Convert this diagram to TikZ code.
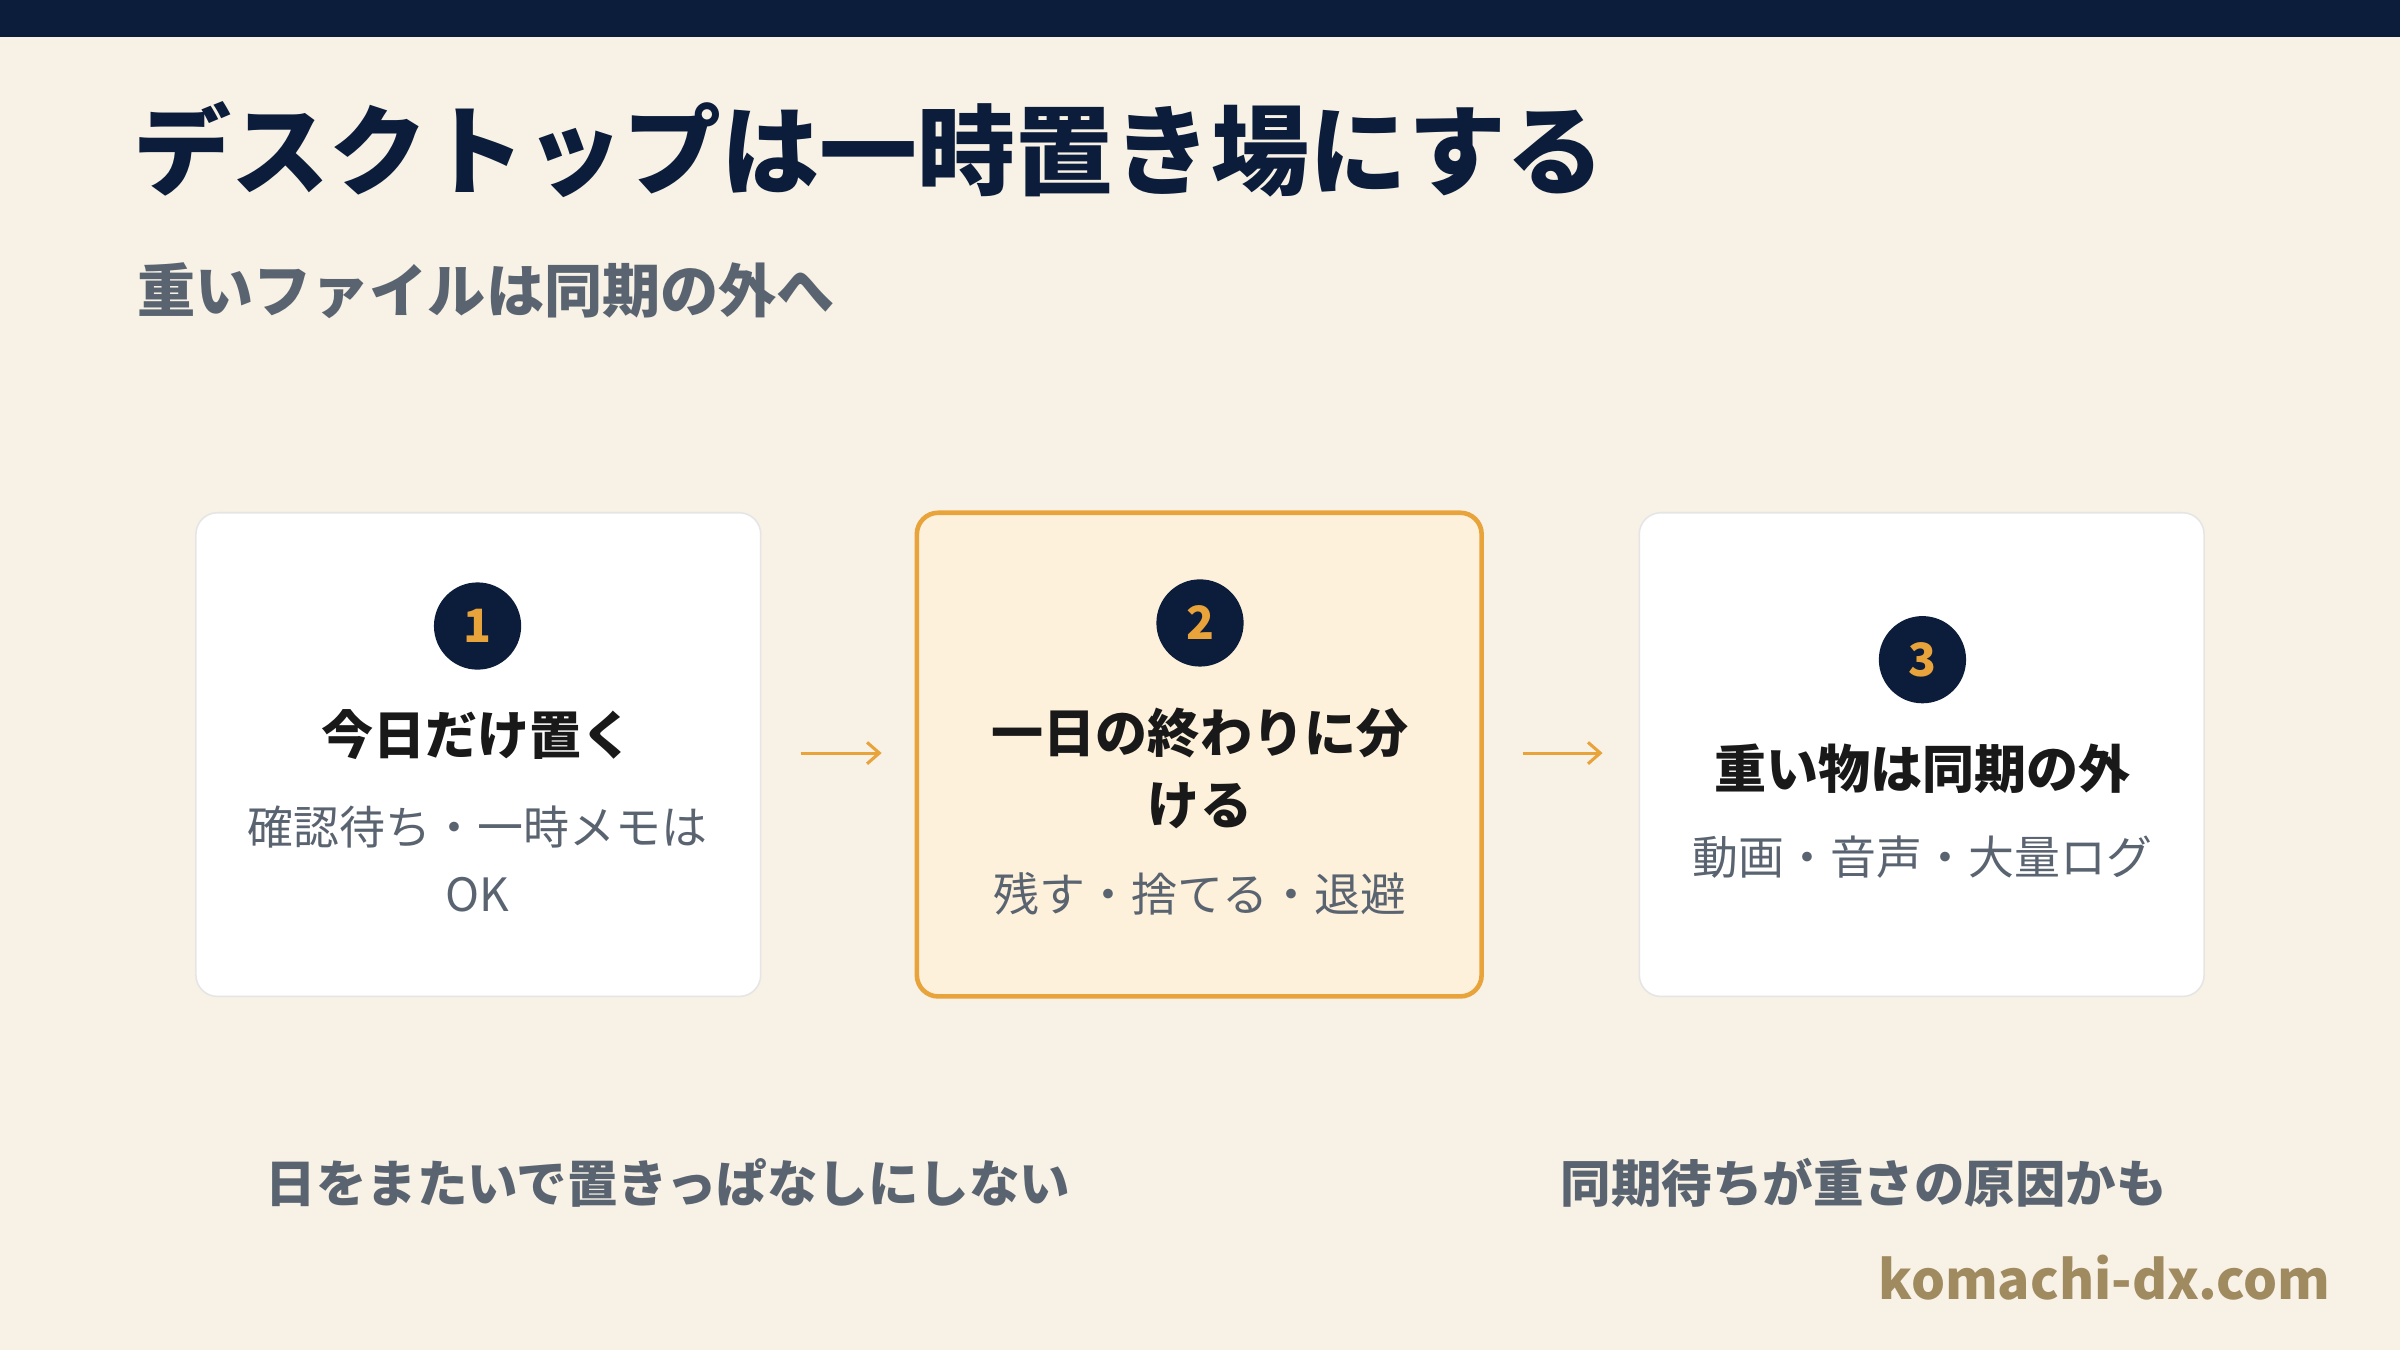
\documentclass[tikz,border=0pt]{standalone}
\usepackage{fontspec}
\setmainfont{Noto Sans CJK JP}
\usetikzlibrary{arrows.meta}
\definecolor{navy}{HTML}{0B1D3A}
\definecolor{bg}{HTML}{F7F1E6}
\definecolor{org}{HTML}{E8A33A}
\definecolor{org2}{HTML}{FDF1DC}
\definecolor{gtx}{HTML}{5A6470}
\definecolor{url}{HTML}{A08A60}
\begin{document}
\begin{tikzpicture}[x=1pt,y=-1pt,
  card/.style={draw=black!10,line width=1pt,fill=white,rounded corners=14pt},
  num/.style={circle,fill=navy,minimum size=57pt,inner sep=0pt,text=org,font=\fontsize{30}{30}\selectfont\bfseries},
  ttl/.style={text=black!90,font=\fontsize{34}{47}\selectfont\bfseries,align=center},
  bdy/.style={text=gtx,font=\fontsize{30}{44}\selectfont,align=center},
  arr/.style={draw=org,line width=2pt,-{Straight Barb[length=8pt,width=14pt]}}]
\fill[bg] (0,0) rectangle (1568,882);
\useasboundingbox (0,0) rectangle (1568,882);
\fill[navy] (0,0) rectangle (1568,24);
\node[anchor=west,text=navy,font=\fontsize{64}{64}\selectfont\bfseries] (t) at (84,98) {デスクトップは一時置き場にする};
\node[anchor=west,text=gtx,font=\fontsize{38}{38}\selectfont\bfseries] (s) at (86,190) {重いファイルは同期の外へ};
\draw[card] (128,335) rectangle (497,651);
\draw[draw=org,line width=3pt,fill=org2,rounded corners=14pt] (599,335) rectangle (968,651);
\draw[card] (1071,335) rectangle (1440,651);
\node[num] (n1) at (312,409) {1};
\node[num] (n2) at (784,407) {2};
\node[num] (n3) at (1256,431) {3};
\node[ttl] (t1) at (312,480) {今日だけ置く};
\node[bdy] (b1) at (312,561) {確認待ち・一時メモは\\OK};
\node[ttl] (t2) at (784,502) {一日の終わりに分\\ける};
\node[bdy] (b2) at (784,584) {残す・捨てる・退避};
\node[ttl] (t3) at (1256,502) {重い物は同期の外};
\node[bdy] (b3) at (1256,560) {動画・音声・大量ログ};
\coordinate (a1s) at (523,492); \coordinate (a1e) at (576,492);
\coordinate (a2s) at (995,492); \coordinate (a2e) at (1047,492);
\draw[arr] (a1s) -- (a1e);
\draw[arr] (a2s) -- (a2e);
\node[anchor=west,text=gtx,font=\fontsize{33}{33}\selectfont\bfseries] (f1) at (170,773) {日をまたいで置きっぱなしにしない};
\node[anchor=west,text=gtx,font=\fontsize{33}{33}\selectfont\bfseries] (f2) at (1016,773) {同期待ちが重さの原因かも};
\node[anchor=east,text=url,font=\fontsize{35}{35}\selectfont\bfseries] (u) at (1526,835) {komachi-dx.com};
\end{tikzpicture}
\end{document}
